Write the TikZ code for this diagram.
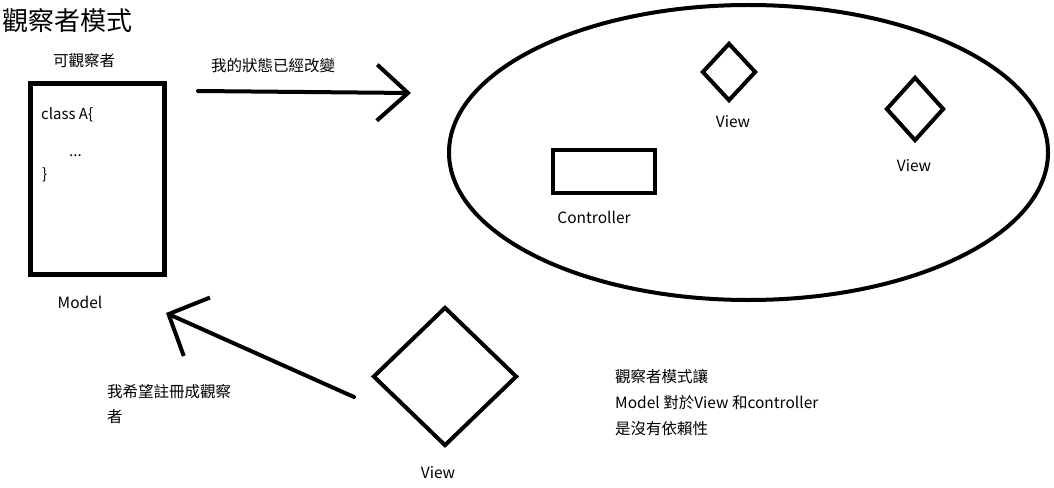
\documentclass[tikz,border=0pt]{standalone}
\usepackage{fontspec}
\setmainfont{Noto Sans CJK TC}
\usetikzlibrary{shapes.geometric,positioning,arrows.meta}

\begin{document}
\begin{tikzpicture}[
    x=1pt, y=-1pt,
    every node/.style = {font=\fontsize{15.5}{25}\selectfont, inner sep=0pt},
    heavy/.style = {line width=4pt},
    classbox/.style = {draw, line width=5pt, minimum width=134pt, minimum height=191pt},
    ctrlbox/.style = {draw, heavy, minimum width=102pt, minimum height=43pt},
    viewbox/.style = {diamond, draw, heavy},
    group/.style = {ellipse, draw, heavy, minimum width=599pt, minimum height=295pt},
    message/.style = {heavy, line cap=round, -{Straight Barb[length=31pt,width=56pt]}},
    code/.style = {anchor=west, font=\fontsize{15}{18}\selectfont}
    ]
    \useasboundingbox (0,0) rectangle (1054,487);

    \node[anchor=west, font=\fontsize{26}{30}\selectfont] (title) at (2,21) {觀察者模式};

    % subject
    \node (subjectlbl) at (84,61) {可觀察者};
    \node[classbox] (model) at (97.5,179) {};
    \node[code] (line1) at (41,115) {class A\{};
    \node[code] (line2) at (69,156) {...};
    \node[code] (line3) at (42,175) {\}};
    \node (modellbl) at (80,302) {Model};

    % observers
    \node[group] (observers) at (748.5,152.5) {};
    \node[ctrlbox] (controller) at (604,171.5) {};
    \node (controllerlbl) at (594,217) {Controller};
    \node[viewbox, minimum width=54pt, minimum height=58pt] (viewA) at (729,72) {};
    \node (viewAlbl) at (733,122) {View};
    \node[viewbox, minimum width=58pt, minimum height=64pt] (viewB) at (915,109) {};
    \node (viewBlbl) at (914,166) {View};

    % new observer
    \node[viewbox, minimum width=144pt, minimum height=139pt] (viewC) at (445,376.5) {};
    \node (viewClbl) at (438,473) {View};

    \coordinate (notifyFrom) at (198,91);
    \coordinate (notifyTo) at (411,93);
    \coordinate (registerFrom) at (354,397);
    \coordinate (registerTo) at (166,313);

    \draw[message] (notifyFrom) -- (notifyTo);
    \node (notifylbl) at (273,66) {我的狀態已經改變};
    \draw[message, -{Straight Barb[length=31pt,width=64pt]}] (registerFrom) -- (registerTo);
    \node[anchor=west, align=left] (registerlbl) at (107,404) {我希望註冊成觀察\\者};

    \node[anchor=west, align=left, font=\fontsize{15.5}{26}\selectfont] (note) at (615,403)
      {觀察者模式讓\\Model 對於View 和controller\\是沒有依賴性};
\end{tikzpicture}
\end{document}
